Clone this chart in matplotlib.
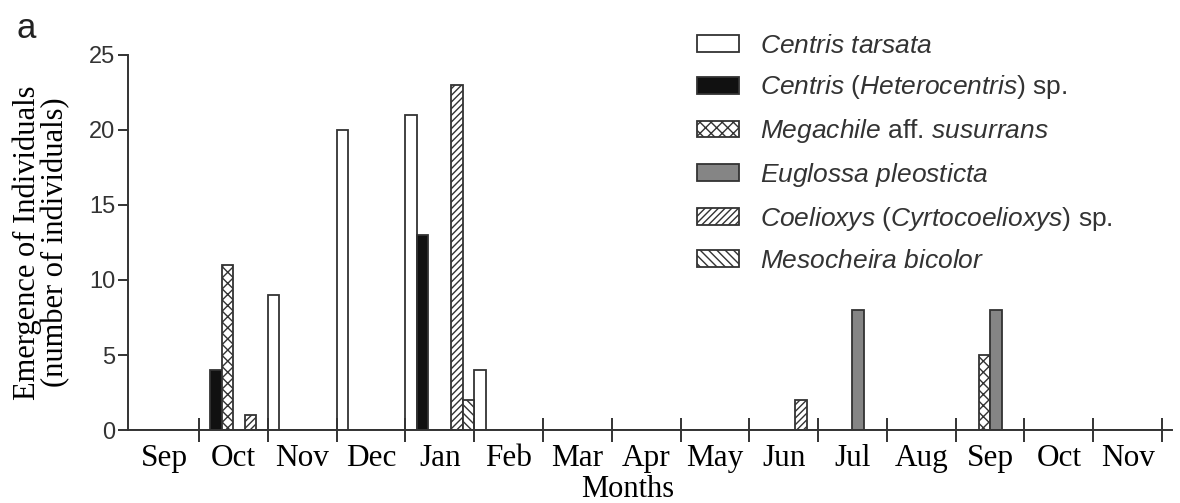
import numpy as np
import matplotlib
matplotlib.use("Agg")
import matplotlib.pyplot as plt

# 数据
months = ['Sep', 'Oct', 'Nov', 'Dec', 'Jan', 'Feb', 'Mar', 'Apr', 'May',
          'Jun', 'Jul', 'Aug', 'Sep', 'Oct', 'Nov']
centris_tarsata = [0, 0, 9, 20, 21, 4, 0, 0, 0, 0, 0, 0, 0, 0, 0]
heterocentris = [0, 4, 0, 0, 13, 0, 0, 0, 0, 0, 0, 0, 0, 0, 0]
megachile = [0, 11, 0, 0, 0, 0, 0, 0, 0, 0, 0, 0, 5, 0, 0]
euglossa = [0, 0, 0, 0, 0, 0, 0, 0, 0, 0, 8, 0, 8, 0, 0]
coelioxys = [0, 1, 0, 0, 23, 0, 0, 0, 0, 2, 0, 0, 0, 0, 0]
mesocheira = [0, 0, 0, 0, 2, 0, 0, 0, 0, 0, 0, 0, 0, 0, 0]

species_labels = [
    r'$\mathit{Centris\ tarsata}$',
    r'$\mathit{Centris}$ ($\mathit{Heterocentris}$) sp.',
    r'$\mathit{Megachile}$ aff. $\mathit{susurrans}$',
    r'$\mathit{Euglossa\ pleosticta}$',
    r'$\mathit{Coelioxys}$ ($\mathit{Cyrtocoelioxys}$) sp.',
    r'$\mathit{Mesocheira\ bicolor}$',
]

plt.rcParams['mathtext.fontset'] = 'custom'
plt.rcParams['mathtext.it'] = 'Liberation Sans:italic'
plt.rcParams['mathtext.rm'] = 'Liberation Sans'
plt.rcParams['hatch.linewidth'] = 1.0

line_col = '#333333'

fig = plt.figure(figsize=(11.8, 5.03), dpi=100)
ax = fig.add_axes([0.1085, 0.1451, 0.8847, 0.7456])

series = [centris_tarsata, heterocentris, megachile, euglossa, coelioxys, mesocheira]
styles = [
    dict(color='white', hatch=None),
    dict(color='#111111', hatch=None),
    dict(color='white', hatch='xxx'),
    dict(color='#858585', hatch=None),
    dict(color='white', hatch='/////'),
    dict(color='white', hatch='\\\\\\\\'),
]

x = np.arange(len(months))
w = 1 / 6
handles = []
for j, (vals, st) in enumerate(zip(series, styles)):
    b = ax.bar(x + j * w, vals, width=w, align='edge', color=st['color'],
               hatch=st['hatch'], edgecolor=line_col, linewidth=1.3,
               label=species_labels[j])
    handles.append(b)

ax.set_xlim(-0.032, 15.145)
ax.set_ylim(0, 25)
ax.set_yticks([0, 5, 10, 15, 20, 25])
ax.set_xticks(np.arange(1, 16))
ax.set_xticklabels([])
ax.set_xticks(x + 0.5, minor=True)
ax.set_xticklabels(months, minor=True, fontfamily='Liberation Serif', fontsize=22.5)
ax.tick_params(axis='x', which='major', direction='inout', length=17, width=1.4,
               color=line_col)
ax.tick_params(axis='x', which='minor', length=0, pad=10)
ax.tick_params(axis='y', direction='out', length=7, width=1.4, color=line_col,
               labelsize=17, labelcolor='#333333', pad=2)
for lab in ax.get_yticklabels():
    lab.set_fontfamily('Liberation Sans')

for s in ['top', 'right']:
    ax.spines[s].set_visible(False)
for s in ['left', 'bottom']:
    ax.spines[s].set_linewidth(1.4)
    ax.spines[s].set_color(line_col)

ax.set_ylabel('Emergence of Individuals\n(number of individuals)',
              fontfamily='Liberation Serif', fontsize=22, linespacing=0.95,
              labelpad=14)
ax.set_xlabel('Months', fontfamily='Liberation Serif', fontsize=22)
# Months 居中位置略偏左
ax.xaxis.set_label_coords(0.4785, -0.121)
ax.xaxis.label.set_va('top')

leg = ax.legend(handles=handles, loc='upper left', bbox_to_anchor=(0.535, 1.085),
                frameon=False, prop={'family': 'Liberation Sans', 'size': 19},
                handlelength=1.6, handleheight=0.6, handletextpad=0.8,
                labelspacing=0.6, borderaxespad=0)
for t in leg.get_texts():
    t.set_color('#333333')

fig.text(0.014, 0.925, 'a', fontfamily='Liberation Sans', fontsize=25, color='#222222')

fig.savefig('out.png', dpi=100)
